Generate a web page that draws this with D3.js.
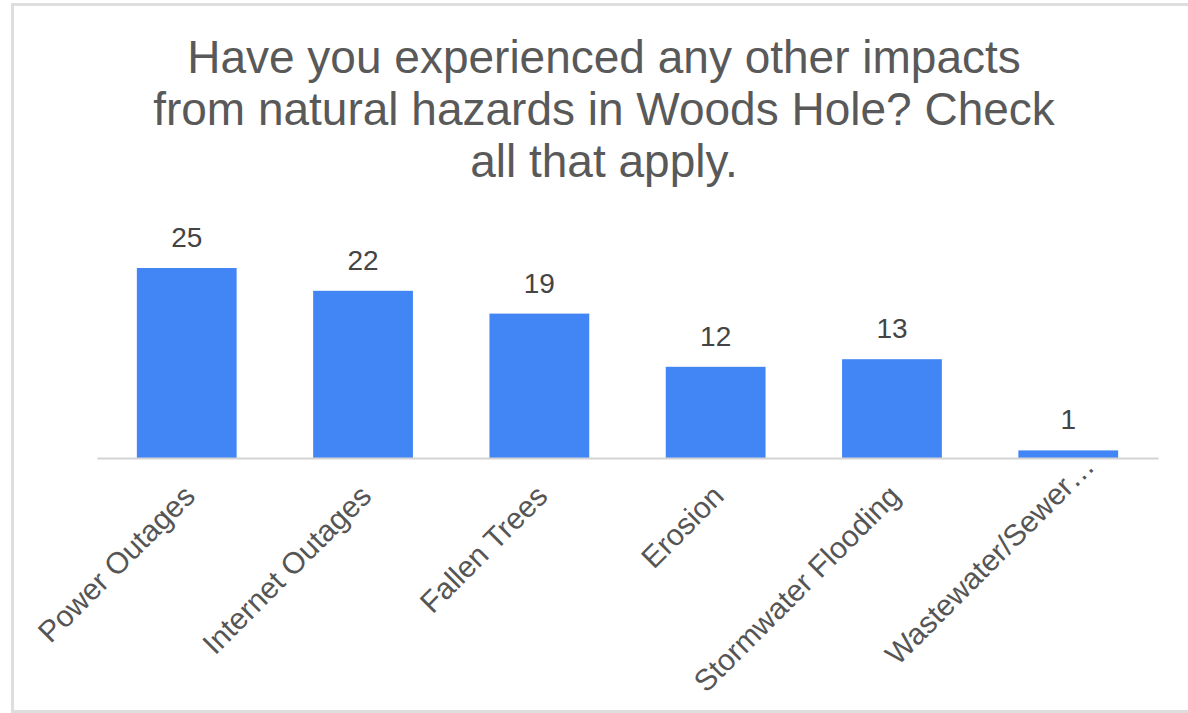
<!DOCTYPE html>
<html>
<head>
<meta charset="utf-8">
<title>Impacts from natural hazards</title>
<script src="https://d3js.org/d3.v7.min.js"></script>
<style>
  body { margin: 0; background: #fff; }
  svg { display: block; font-family: "Liberation Sans", Arial, sans-serif; }
</style>
</head>
<body>
<svg id="chart" width="1188" height="713"></svg>
<script>
  // data
  let categories = ["Power Outages", "Internet Outages", "Fallen Trees", "Erosion", "Stormwater Flooding", "Wastewater/Sewer\u2026"];
  let counts = [25, 22, 19, 12, 13, 1];
  let titleLines = ["Have you experienced any other impacts", "from natural hazards in Woods Hole? Check", "all that apply."];

  let svg = d3.select("#chart");

  // light frame round the chart
  svg.append("rect")
    .attr("x", 12.5).attr("y", 4.5)
    .attr("width", 1200).attr("height", 707)
    .attr("fill", "none")
    .attr("stroke", "#dedede")
    .attr("stroke-width", 3);

  let baseY = 458;

  let x = d3.scaleBand()
    .domain(categories)
    .range([97, 1158])
    .paddingInner(0.434)
    .paddingOuter(0.226);

  let y = d3.scaleLinear()
    .domain([0, 25])
    .range([baseY, 268]);

  // title
  svg.append("text")
    .attr("text-anchor", "middle")
    .attr("fill", "#595959")
    .style("font-size", "46px")
    .selectAll("tspan")
    .data(titleLines)
    .join("tspan")
    .attr("x", 604)
    .attr("y", (d, i) => 73 + i * 52)
    .text(d => d);

  // bars
  svg.selectAll(".bar")
    .data(counts)
    .join("rect")
    .attr("class", "bar")
    .attr("x", (d, i) => x(categories[i]))
    .attr("width", x.bandwidth())
    .attr("y", d => y(d))
    .attr("height", d => baseY - y(d))
    .attr("fill", "#4285f4");

  // value labels
  svg.selectAll(".val")
    .data(counts)
    .join("text")
    .attr("class", "val")
    .attr("x", (d, i) => x(categories[i]) + x.bandwidth() / 2)
    .attr("y", d => y(d) - 21)
    .attr("text-anchor", "middle")
    .attr("fill", "#444")
    .style("font-size", "28px")
    .text(d => d);

  // x axis
  let xAxis = d3.axisBottom(x).tickSize(0).tickPadding(0);
  let xGroup = svg.append("g")
    .attr("transform", "translate(0," + baseY + ")")
    .call(xAxis);

  xGroup.select(".domain")
    .attr("stroke", "#d3d3d3")
    .attr("stroke-width", 2);

  // the truncated last label sits a bit higher, like the original
  let last = categories.length - 1;
  xGroup.selectAll(".tick text")
    .attr("fill", "#555")
    .style("font-size", "30px")
    .style("font-family", "'Liberation Sans', Arial, sans-serif")
    .attr("text-anchor", "end")
    .attr("dy", "0")
    .attr("transform", (d, i) => i === last ? "translate(28,10) rotate(-45)" : "translate(10,40) rotate(-45)");
</script>
</body>
</html>
